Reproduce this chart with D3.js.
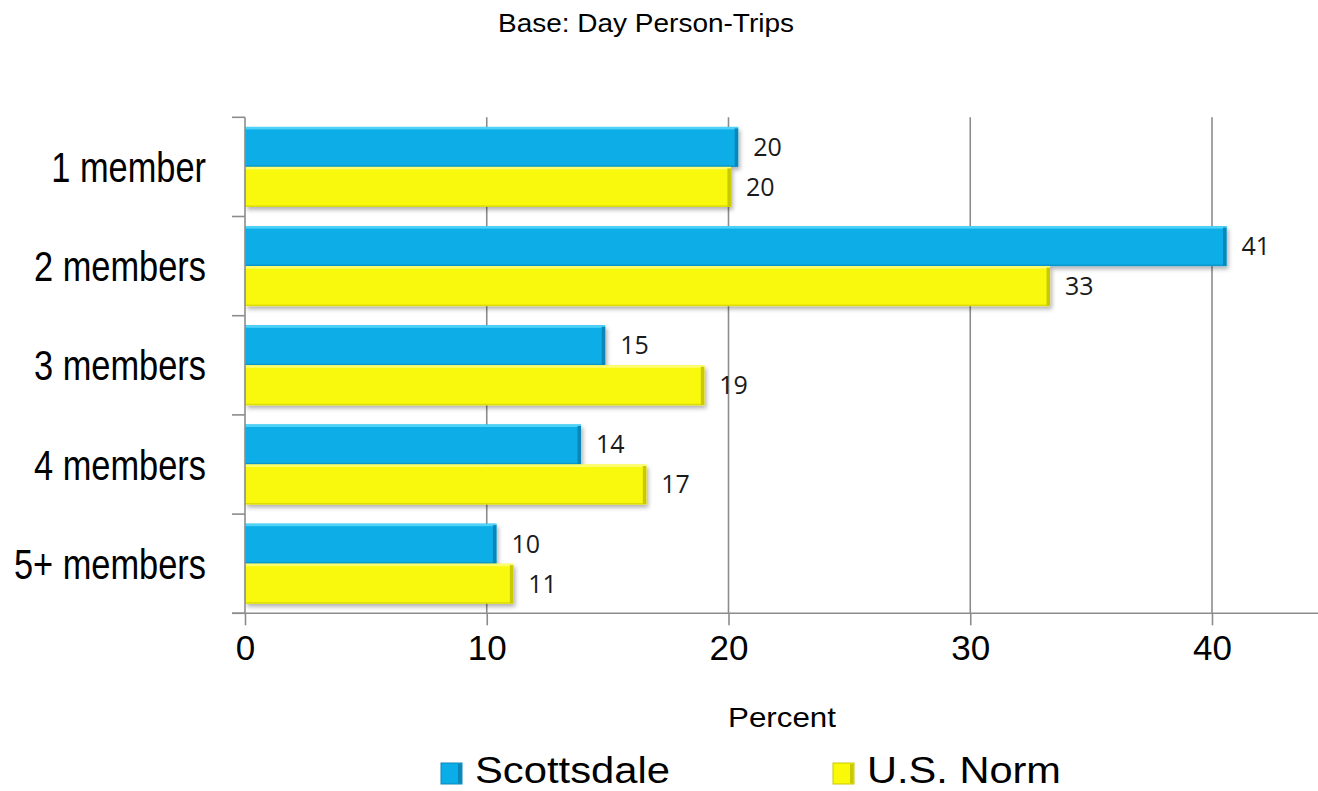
<!DOCTYPE html>
<html>
<head>
<meta charset="utf-8">
<script src="https://cdn.jsdelivr.net/npm/d3@7"></script>
<style>
  html, body { margin: 0; padding: 0; background: #fff; }
  svg { display: block; }
</style>
</head>
<body>
<svg id="chart" width="1318" height="791"></svg>
<script>
// Household party size, day person-trips
const categories = ["1 member", "2 members", "3 members", "4 members", "5+ members"];
const seriesNames = ["Scottsdale", "U.S. Norm"];
const scottsdale = [20.4, 40.6, 14.9, 13.9, 10.4];
const usNorm = [20.1, 33.3, 19.0, 16.6, 11.1];
const xTicks = [0, 10, 20, 30, 40];

const colors = { "Scottsdale": "#0aade8", "U.S. Norm": "#f9f908" };
const edgeDark = { "Scottsdale": "#0a87b8", "U.S. Norm": "#c9c900" };
const edgeLight = { "Scottsdale": "#4fd2f7", "U.S. Norm": "#fdfd70" };

const svg = d3.select("#chart");
const W = 1318, H = 791;

const plot = { left: 245, top: 117.3, bottom: 613.3 };

const x = d3.scaleLinear().domain([0, 40]).range([plot.left, 1212]);
const y = d3.scaleBand().domain(categories).range([plot.top, plot.bottom]).paddingInner(0).paddingOuter(0);
const ySub = d3.scaleBand().domain(seriesNames).range([0, y.bandwidth()]).paddingInner(0).paddingOuter(0.24);

const defs = svg.append("defs");
const shadow = defs.append("filter").attr("id", "barShadow")
  .attr("x", "-5%").attr("y", "-20%").attr("width", "110%").attr("height", "150%");
shadow.append("feDropShadow").attr("dx", 2).attr("dy", 3).attr("stdDeviation", 2)
  .attr("flood-color", "#000").attr("flood-opacity", 0.3);

// Title
svg.append("text")
  .attr("x", 498).attr("y", 32)
  .attr("font-family", "Liberation Sans, Arial, sans-serif")
  .attr("font-size", 26)
  .attr("textLength", 296).attr("lengthAdjust", "spacingAndGlyphs")
  .attr("fill", "#000")
  .text("Base: Day Person-Trips");

// Vertical gridlines
svg.append("g").selectAll("line")
  .data(xTicks.filter(d => d > 0))
  .join("line")
  .attr("x1", d => x(d)).attr("x2", d => x(d))
  .attr("y1", plot.top).attr("y2", plot.bottom)
  .attr("stroke", "#8c8c8c").attr("stroke-width", 1.6);

// Bars
const rows = categories.map((c, i) => ({
  category: c,
  values: [
    { series: "Scottsdale", value: scottsdale[i] },
    { series: "U.S. Norm", value: usNorm[i] }
  ]
}));

const groups = svg.append("g").selectAll("g")
  .data(rows).join("g")
  .attr("transform", d => `translate(0,${y(d.category)})`);

const bar = groups.selectAll("g.bar")
  .data(d => d.values).join("g").attr("class", "bar");

const bh = ySub.bandwidth();

bar.append("rect")
  .attr("x", x(0))
  .attr("y", d => ySub(d.series))
  .attr("width", d => x(d.value) - x(0))
  .attr("height", bh)
  .attr("fill", d => colors[d.series])
  .attr("filter", "url(#barShadow)");

// bevel: light top strip
bar.append("rect")
  .attr("x", x(0))
  .attr("y", d => ySub(d.series))
  .attr("width", d => x(d.value) - x(0))
  .attr("height", 2.5)
  .attr("fill", d => edgeLight[d.series]);

// bevel: dark right edge
bar.append("rect")
  .attr("x", d => x(d.value) - 3.5)
  .attr("y", d => ySub(d.series) + 1.5)
  .attr("width", 3.5)
  .attr("height", bh - 2)
  .attr("fill", d => edgeDark[d.series]);

// bevel: bottom darker line
bar.append("rect")
  .attr("x", x(0))
  .attr("y", d => ySub(d.series) + bh - 1.5)
  .attr("width", d => x(d.value) - x(0))
  .attr("height", 1.5)
  .attr("fill", d => edgeDark[d.series])
  .attr("opacity", 0.6);

// Value labels
bar.append("text")
  .attr("x", d => x(d.value) + 15)
  .attr("y", d => ySub(d.series) + bh / 2 + 9)
  .attr("font-family", "Open Sans, Lato, sans-serif")
  .attr("font-size", 25)
  .attr("fill", "#1a1a1a")
  .text(d => d3.format(".0f")(d.value));

// Left axis line and ticks at band boundaries
svg.append("line")
  .attr("x1", plot.left).attr("x2", plot.left)
  .attr("y1", plot.top).attr("y2", plot.bottom)
  .attr("stroke", "#8c8c8c").attr("stroke-width", 1.6);

const boundaries = categories.map(c => y(c)).concat([plot.bottom]);
svg.append("g").selectAll("line")
  .data(boundaries).join("line")
  .attr("x1", 232).attr("x2", plot.left)
  .attr("y1", d => d).attr("y2", d => d)
  .attr("stroke", "#8c8c8c").attr("stroke-width", 1.6);

// Category labels
svg.append("g").selectAll("text")
  .data(categories).join("text")
  .attr("transform", d => `translate(206,${y(d) + y.bandwidth() / 2 + 15}) scale(0.8,1)`)
  .attr("text-anchor", "end")
  .attr("font-family", "Liberation Sans, Arial, sans-serif")
  .attr("font-size", 43)
  .attr("fill", "#000")
  .text(d => d);

// Bottom axis
const xAxis = d3.axisBottom(x).tickValues(xTicks).tickSize(12).tickPadding(10).tickFormat(d3.format("d"));
const gx = svg.append("g").attr("transform", `translate(0,${plot.bottom})`).call(xAxis);
gx.select(".domain").remove();
gx.selectAll(".tick line").attr("stroke", "#8c8c8c").attr("stroke-width", 1.6);
gx.selectAll(".tick text")
  .attr("font-family", "Liberation Sans, Arial, sans-serif")
  .attr("font-size", 35)
  .attr("fill", "#000")
  .attr("dy", "0.71em");
svg.append("line")
  .attr("x1", 232).attr("x2", W)
  .attr("y1", plot.bottom).attr("y2", plot.bottom)
  .attr("stroke", "#8c8c8c").attr("stroke-width", 1.6);

// Axis title
svg.append("text")
  .attr("x", 728).attr("y", 727)
  .attr("font-family", "Liberation Sans, Arial, sans-serif")
  .attr("font-size", 28)
  .attr("textLength", 108).attr("lengthAdjust", "spacingAndGlyphs")
  .attr("fill", "#000")
  .text("Percent");

// Legend
const legendItems = [
  { name: "Scottsdale", sx: 441, tx: 475, tw: 195 },
  { name: "U.S. Norm", sx: 833, tx: 867, tw: 194 }
];
const lg = svg.append("g").selectAll("g").data(legendItems).join("g");
lg.append("rect")
  .attr("x", d => d.sx).attr("y", 763).attr("width", 21).attr("height", 21)
  .attr("fill", d => colors[d.name])
  .attr("stroke", d => edgeDark[d.name]).attr("stroke-width", 1);
lg.append("rect")
  .attr("x", d => d.sx + 17).attr("y", 764).attr("width", 3.5).attr("height", 19.5)
  .attr("fill", d => edgeDark[d.name]);
lg.append("text")
  .attr("x", d => d.tx).attr("y", 783)
  .attr("font-family", "Liberation Sans, Arial, sans-serif")
  .attr("font-size", 37)
  .attr("textLength", d => d.tw).attr("lengthAdjust", "spacingAndGlyphs")
  .attr("fill", "#000")
  .text(d => d.name);
</script>
</body>
</html>
